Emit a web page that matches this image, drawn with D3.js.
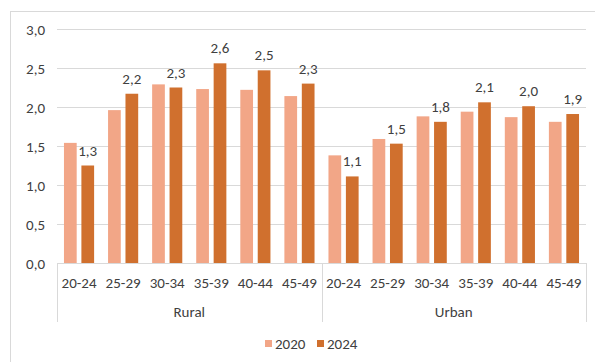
<!DOCTYPE html>
<html>
<head>
<meta charset="utf-8">
<script src="https://cdn.jsdelivr.net/npm/d3@7"></script>
<style>
  html, body { margin: 0; padding: 0; background: #fff; }
  svg text { font-family: Carlito, Calibri, Lato, "Open Sans", sans-serif; fill: #404040; }
</style>
</head>
<body>
<svg id="chart" width="595" height="362"></svg>
<script>
// Age groups within each area of residence
const areas = ["Rural", "Urban"];
const ageGroups = ["20-24", "25-29", "30-34", "35-39", "40-44", "45-49"];
const seriesNames = ["2020", "2024"];
const values2020 = [1.54, 1.96, 2.29, 2.23, 2.22, 2.14, 1.38, 1.59, 1.88, 1.94, 1.87, 1.81];
const values2024 = [1.25, 2.17, 2.25, 2.56, 2.47, 2.30, 1.11, 1.53, 1.81, 2.06, 2.01, 1.91];
const yTicks = [0, 0.5, 1.0, 1.5, 2.0, 2.5, 3.0];
const colors = ["#F2A687", "#D0702E"];

const svg = d3.select("#chart");
const margin = { left: 57, right: 9, top: 29, bottom: 99 };
const W = 595, H = 362;
const plotW = W - margin.left - margin.right;
const plotH = H - margin.top - margin.bottom;
const fs = 15;

// Chart frame
svg.append("rect")
  .attr("x", 10.5).attr("y", 11.5)
  .attr("width", 600).attr("height", 400)
  .attr("fill", "none").attr("stroke", "#D9D9D9");

const g = svg.append("g").attr("transform", `translate(${margin.left},${margin.top})`);

const rows = [];
areas.forEach((a, ai) => ageGroups.forEach((ag, gi) => {
  const i = ai * ageGroups.length + gi;
  rows.push({ key: a + "|" + ag, area: a, age: ag, v: [values2020[i], values2024[i]] });
}));

const x = d3.scaleBand().domain(rows.map(d => d.key)).range([0, plotW]).paddingInner(0).paddingOuter(0);
const xInner = d3.scaleBand().domain(seriesNames).range([0, x.bandwidth()]).paddingInner(0.27).paddingOuter(0.4);
const y = d3.scaleLinear().domain([0, 3]).range([plotH, 0]);

// Gridlines and value axis
const yAxis = d3.axisLeft(y).tickValues(yTicks).tickSize(-plotW)
  .tickFormat(d => d3.format(".1f")(d).replace(".", ","));
const ya = g.append("g").call(yAxis);
ya.select(".domain").remove();
ya.selectAll(".tick line").attr("stroke", "#D9D9D9").attr("stroke-width", 1);
ya.selectAll(".tick text").attr("x", -12).attr("font-size", fs).attr("dy", "0.35em");

// Bars
const groups = g.selectAll("g.cat").data(rows).join("g")
  .attr("class", "cat")
  .attr("transform", d => `translate(${x(d.key)},0)`);

groups.selectAll("rect").data(d => d.v.map((v, i) => ({ s: seriesNames[i], v, i }))).join("rect")
  .attr("x", d => xInner(d.s))
  .attr("width", xInner.bandwidth())
  .attr("y", d => y(d.v))
  .attr("height", d => plotH - y(d.v))
  .attr("fill", d => colors[d.i]);

// Value labels on the 2024 bars
groups.append("text")
  .attr("x", xInner("2024") + xInner.bandwidth() / 2)
  .attr("y", d => y(d.v[1]) - 10)
  .attr("text-anchor", "middle")
  .attr("font-size", fs)
  .text(d => d3.format(".1f")(d.v[1]).replace(".", ","));

// Category axis: baseline, age labels, area labels and dividers
g.append("line").attr("x1", 0).attr("x2", plotW).attr("y1", plotH + 0.5).attr("y2", plotH + 0.5)
  .attr("stroke", "#D9D9D9");

groups.append("text")
  .attr("x", x.bandwidth() / 2)
  .attr("y", plotH + 20)
  .attr("dy", "0.35em")
  .attr("text-anchor", "middle")
  .attr("font-size", fs)
  .text(d => d.age);

const groupW = x.bandwidth() * ageGroups.length;
areas.forEach((a, ai) => {
  g.append("text")
    .attr("x", groupW * ai + groupW / 2)
    .attr("y", plotH + 49)
    .attr("dy", "0.35em")
    .attr("text-anchor", "middle")
    .attr("font-size", fs)
    .text(a);
});
d3.range(areas.length + 1).forEach(k => {
  const xx = Math.round(groupW * k) + 0.5;
  g.append("line").attr("x1", xx).attr("x2", xx)
    .attr("y1", plotH).attr("y2", plotH + 59)
    .attr("stroke", "#D9D9D9");
});

// Legend
const legend = svg.append("g").attr("transform", "translate(265,340)");
const items = [{ n: "2020", x: 0 }, { n: "2024", x: 52 }];
items.forEach((it, i) => {
  legend.append("rect").attr("x", it.x).attr("y", 0).attr("width", 7).attr("height", 7).attr("fill", colors[i]);
  legend.append("text").attr("x", it.x + 10).attr("y", 3.5).attr("dy", "0.35em")
    .attr("font-size", fs).text(it.n);
});
</script>
</body>
</html>
